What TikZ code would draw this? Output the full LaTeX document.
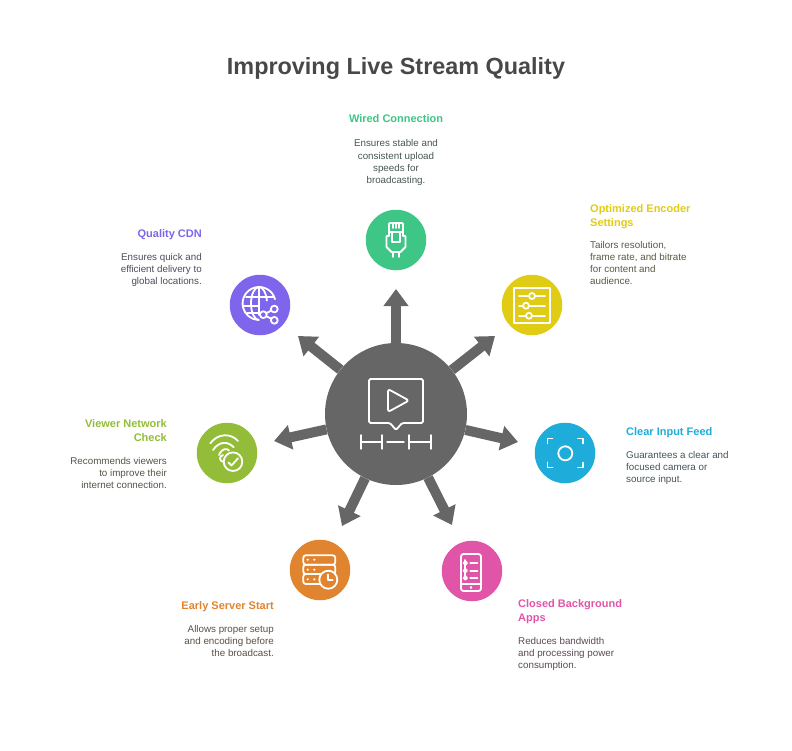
\documentclass[tikz,border=0pt]{standalone}
\usepackage{fontspec}
\setmainfont{Liberation Sans}
\usetikzlibrary{arrows.meta}

\definecolor{hubgray}{HTML}{666666}
\definecolor{titlegray}{HTML}{484848}
\definecolor{wiredcol}{HTML}{3DC685}
\definecolor{encodercol}{HTML}{E0CB15}
\definecolor{inputcol}{HTML}{1EACDB}
\definecolor{appscol}{HTML}{E055A8}
\definecolor{servercol}{HTML}{E08430}
\definecolor{viewercol}{HTML}{93BD38}
\definecolor{cdncol}{HTML}{7E65EB}

\tikzset{
  spoke/.style={line width=10pt, hubgray, -{Triangle[length=17pt,width=24pt]}},
  badge/.style={circle, minimum size=60.5pt, inner sep=0pt, fill=#1},
  icon/.style={white, line width=1.8pt, line cap=round, line join=round},
  head/.style={font=\fontsize{11}{13.5}\selectfont\bfseries, inner sep=0pt, text=#1},
  desc/.style={font=\fontsize{9.8}{12.2}\selectfont, inner sep=0pt, text=#1!12!titlegray}
}

\begin{document}
\begin{tikzpicture}[x=1pt, y=-1pt]

        \useasboundingbox (0,0) rectangle (792,750);

        % Title
        \node[font=\fontsize{23.4}{28}\selectfont\bfseries, text=titlegray, inner sep=0pt] (title) at (396,68) {Improving Live Stream Quality};

        % Hub
        \node[circle, fill=hubgray, minimum size=142pt, inner sep=0pt] (hub) at (396,414) {};

        % Badges
        \node[badge=wiredcol] (wired) at (396,240) {};
        \node[badge=encodercol] (encoder) at (532,305) {};
        \node[badge=inputcol] (input) at (565,453) {};
        \node[badge=appscol] (apps) at (472,571) {};
        \node[badge=servercol] (server) at (320,570) {};
        \node[badge=viewercol] (viewer) at (227,453) {};
        \node[badge=cdncol] (cdn) at (260,305) {};

        % Arrow tips
        \coordinate (tipwired) at (396,289);
        \coordinate (tipencoder) at (495,336);
        \coordinate (tipinput) at (518,442);
        \coordinate (tipapps) at (452,525);
        \coordinate (tipserver) at (342,526);
        \coordinate (tipviewer) at (274,441);
        \coordinate (tipcdn) at (298,336);

        % Spokes
        \foreach \n in {wired,encoder,input,apps,server,viewer,cdn}
            \draw[spoke] (hub) -- (tip\n);

        % Hub icon
        \begin{scope}[shift={(hub.center)}]
            \draw[icon, rounded corners=1.5pt] (0,-35) -- (27,-35) -- (27,9) -- (6,9) -- (0,16) -- (-6,9) -- (-27,9) -- (-27,-35) -- cycle;
            \draw[icon, rounded corners=2.5pt] (-8,-13) -- (-8,-25) -- (13,-13.5) -- (-8,-2) -- cycle;
            \draw[icon, line width=1.4pt] (-35,21) -- (-35,35) (-35,28) -- (-14,28) (-14,21) -- (-14,35);
            \draw[icon, line width=1.4pt] (-9,28) -- (8,28);
            \draw[icon, line width=1.4pt] (13,21) -- (13,35) (13,28) -- (35,28) (35,21) -- (35,35);
        \end{scope}

        % Wired icon
        \begin{scope}[shift={(wired.center)}]
            \draw[icon, rounded corners=1pt] (-7,-17) rectangle (7,-8);
            \draw[icon] (-3,-17) -- (-3,-12) (0,-17) -- (0,-12) (3,-17) -- (3,-12);
            \draw[icon] (-7,-8) -- (-7,-4) -- (-9.5,-4) -- (-9.5,7) -- (-4.5,12) -- (4.5,12) -- (9.5,7) -- (9.5,-4) -- (7,-4) -- (7,-8);
            \draw[icon] (-4,-8) -- (-4,2) -- (4,2) -- (4,-8);
            \draw[icon] (-3,12) -- (-3,17) (3,12) -- (3,17);
        \end{scope}

        % Encoder icon
        \begin{scope}[shift={(encoder.center)}]
            \draw[icon] (-17.7,-16.7) rectangle (18,18.3);
            \foreach \y/\k in {-9/0,0.7/-6,10.7/-3} {
                \draw[icon] (-13,\y) -- (13,\y);
                \draw[icon, fill=encodercol] (\k,\y) circle (3pt);
            }
        \end{scope}

        % Input icon
        \begin{scope}[shift={(input.center)}]
            \draw[icon] (0.3,0.3) circle (7pt);
            \draw[icon] (-17.5,-9.5) -- (-17.5,-14.5) -- (-12.5,-14.5);
            \draw[icon] (18,-9.5) -- (18,-14.5) -- (13,-14.5);
            \draw[icon] (-17.5,9.5) -- (-17.5,14.5) -- (-12.5,14.5);
            \draw[icon] (18,9.5) -- (18,14.5) -- (13,14.5);
        \end{scope}

        % Apps icon
        \begin{scope}[shift={(apps.center)}]
            \draw[icon, rounded corners=2.5pt] (-11,-17) rectangle (9,20);
            \draw[icon] (-11,13) -- (9,13);
            \draw[icon, fill=white] (-1,16.5) circle (0.6pt);
            \draw[icon] (-6.7,-11) -- (-6.7,8);
            \foreach \y in {-8,-0.3,7} {
                \draw[icon, fill=white] (-6.7,\y) circle (1.7pt);
                \draw[icon] (-1.7,\y) -- (5.5,\y);
            }
        \end{scope}

        % Server icon
        \begin{scope}[shift={(server.center)}]
            \draw[icon, rounded corners=2.5pt] (-16.7,-14.7) rectangle (15.3,-5.3);
            \draw[icon, rounded corners=2.5pt] (-16.7,-5.3) rectangle (15.3,4);
            \draw[icon, rounded corners=2.5pt] (0,14) -- (-16.7,14) -- (-16.7,4) -- (1,4);
            \foreach \y in {-10.3,-0.3,9.3} {
                \fill[white] (-12.3,\y) circle (1.2pt);
                \fill[white] (-5.7,\y) circle (1.2pt);
            }
            \draw[icon, fill=servercol] (8.3,9.7) circle (9pt);
            \draw[icon] (8.3,4.5) -- (8.3,10.3) -- (12.7,10.3);
        \end{scope}

        % Viewer icon
        \begin{scope}[shift={(viewer.center)}]
            \draw[icon] (-16.7,-9.7) .. controls (-9,-20) and (4,-20) .. (11,-12);
            \draw[icon] (-14,-3) .. controls (-8,-12) and (1,-12) .. (6.7,-5.7);
            \draw[icon] (-8,2) .. controls (-5,-5) and (0,-5) .. (2,-2.5);
            \draw[icon] (-4,2) .. controls (-8,3) and (-8,8) .. (-4,8.7);
            \draw[icon, fill=viewercol] (6,8.7) circle (9.3pt);
            \draw[icon] (1.5,9.5) -- (4.5,12.5) -- (11,5.3);
        \end{scope}

        % CDN icon
        \begin{scope}[shift={(cdn.center)}]
            \draw[icon] (15,-5.8) arc[start angle=15, end angle=265, radius=16.5pt];
            \draw[icon] (-1,-18) arc[start angle=90, end angle=270, x radius=8pt, y radius=16.5pt];
            \draw[icon] (-1,-18) arc[start angle=90, end angle=10, x radius=8pt, y radius=16.5pt];
            \draw[icon] (-1,-18) -- (-1,10);
            \draw[icon] (-14,-8) -- (14,-8) (-17,1.3) -- (-1,1.3) (-13,8) -- (-1,8);
            \draw[icon] (3.3,9.7) -- (14.3,4) (3.3,9.7) -- (14.3,15.3);
            \foreach \x/\y in {3.3/9.7,14.3/4,14.3/15.3}
                \draw[icon, fill=cdncol] (\x,\y) circle (3.4pt);
        \end{scope}

        % Labels
        \node[head=wiredcol, anchor=north] (wiredhead) at (396,114.5) {Wired Connection};
        \node[desc=wiredcol, anchor=north, align=center] (wireddesc) at (396,139.5) {Ensures stable and\\consistent upload\\speeds for\\broadcasting.};

        \node[head=encodercol, anchor=north west, align=left] (encoderhead) at (590,204.5) {Optimized Encoder\\Settings};
        \node[desc=encodercol, anchor=north west, align=left] (encoderdesc) at (590,241) {Tailors resolution,\\frame rate, and bitrate\\for content and\\audience.};

        \node[head=inputcol, anchor=north west] (inputhead) at (626,427) {Clear Input Feed};
        \node[desc=inputcol, anchor=north west, align=left] (inputdesc) at (626,451) {Guarantees a clear and\\focused camera or\\source input.};

        \node[head=appscol, anchor=north west, align=left] (appshead) at (518,599.5) {Closed Background\\Apps};
        \node[desc=appscol, anchor=north west, align=left] (appsdesc) at (518,637) {Reduces bandwidth\\and processing power\\consumption.};

        \node[head=servercol, anchor=north east] (serverhead) at (274,601) {Early Server Start};
        \node[desc=servercol, anchor=north east, align=right] (serverdesc) at (274,625) {Allows proper setup\\and encoding before\\the broadcast.};

        \node[head=viewercol, anchor=north east, align=right] (viewerhead) at (167,419.5) {Viewer Network\\Check};
        \node[desc=viewercol, anchor=north east, align=right] (viewerdesc) at (167,457) {Recommends viewers\\to improve their\\internet connection.};

        \node[head=cdncol, anchor=north east] (cdnhead) at (202,229) {Quality CDN};
        \node[desc=cdncol, anchor=north east, align=right] (cdndesc) at (202,253) {Ensures quick and\\efficient delivery to\\global locations.};

\end{tikzpicture}
\end{document}
